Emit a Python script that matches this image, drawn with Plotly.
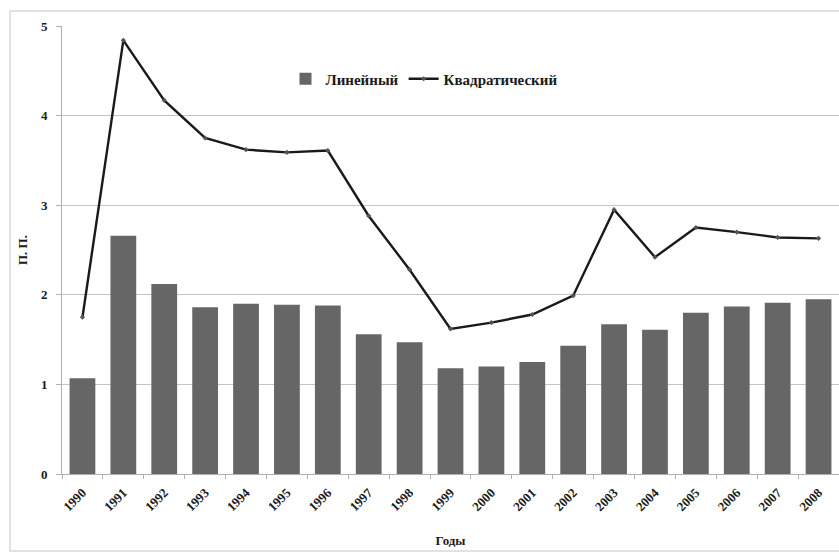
import plotly.graph_objects as go

years = [str(y) for y in range(1990, 2009)]
linear = [1.07, 2.66, 2.12, 1.86, 1.90, 1.89, 1.88, 1.56, 1.47, 1.18, 1.20, 1.25, 1.43, 1.67, 1.61, 1.80, 1.87, 1.91, 1.95]
quadratic = [1.75, 4.84, 4.17, 3.75, 3.62, 3.59, 3.61, 2.88, 2.28, 1.62, 1.69, 1.78, 1.99, 2.95, 2.42, 2.75, 2.70, 2.64, 2.63]
y_ticks = [0, 1, 2, 3, 4, 5]

FONT = "Liberation Serif"

fig = go.Figure()
fig.add_trace(go.Bar(x=years, y=linear, name="Линейный",
                     marker=dict(color="#666666", line=dict(width=0)), width=0.63))
fig.add_trace(go.Scatter(x=years, y=quadratic, name="Квадратический", mode="lines+markers",
                         line=dict(color="#1a1a1a", width=2.4),
                         marker=dict(symbol="diamond", size=4, color="#555555")))

W, H = 839, 553
L, T, R = 62, 26, 0
B = H - T - 448
pw, ph = W - L - R, H - T - B

def px(xpix):
    return (xpix - L) / pw

def py(ypix):
    return (H - B - ypix) / ph

fig.update_layout(
    width=W, height=H,
    margin=dict(l=L, r=R, t=T, b=B, autoexpand=False),
    paper_bgcolor="white", plot_bgcolor="white",
    font=dict(family=FONT, size=13, color="#1a1a1a", weight="bold"),
    showlegend=True,
    legend=dict(orientation="h", x=px(424), xanchor="center", y=py(79), yanchor="middle",
                font=dict(family=FONT, size=15, weight="bold"), bgcolor="rgba(0,0,0,0)",
                traceorder="normal", itemwidth=30),
    bargap=0.37,
    xaxis=dict(type="category", range=[-0.5, len(years) - 0.5], tickangle=-45, showgrid=False,
               showline=True, linecolor="#b0b0b0", automargin=False,
               ticks="outside", tickson="boundaries", ticklen=4, tickcolor="#b0b0b0",
               ticklabelstandoff=5,
               tickfont=dict(family=FONT, size=13, weight="bold"),
               title=dict(text="Годы", font=dict(family=FONT, size=13, weight="bold"), standoff=22)),
    yaxis=dict(range=[0, 5], tickvals=y_ticks, showgrid=True, gridcolor="#c4c4c4", gridwidth=1.3,
               automargin=False, ticklabelstandoff=6,
               showline=True, linecolor="#b0b0b0", ticks="outside", ticklen=5, tickcolor="#b0b0b0",
               zeroline=False, tickfont=dict(family=FONT, size=13, weight="bold"),
               title=dict(text="П. П.", font=dict(family=FONT, size=13, weight="bold"), standoff=10)),
)

fig.add_shape(type="rect", xref="paper", yref="paper",
              x0=px(10), x1=px(845), y0=py(551), y1=py(11),
              line=dict(color="#d9d9d9", width=1.5), fillcolor="rgba(0,0,0,0)", layer="below")

fig.write_html(
    "out.html",
    config={"displayModeBar": False},
    post_script="document.body.style.margin='0px';document.body.style.overflow='hidden';"
                "document.documentElement.style.overflow='hidden';",
)
